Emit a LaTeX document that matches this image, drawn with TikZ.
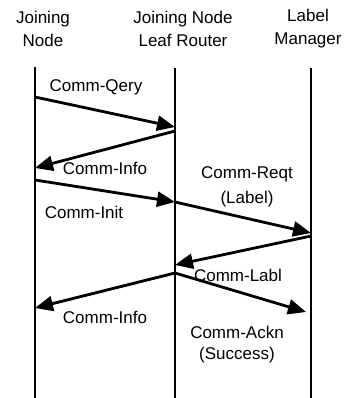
\documentclass[tikz,border=0pt]{standalone}
\usepackage{fontspec}
\setmainfont{Liberation Sans}
\usetikzlibrary{arrows.meta}
\tikzset{
  life/.style={line width=2.8pt},
  msg/.style={line width=2.8pt,-{Triangle[length=18pt,width=15pt]}},
  lbl/.style={font=\fontsize{17}{23}\selectfont, inner sep=0pt},
  head/.style={lbl, align=center},
}
\begin{document}
\begin{tikzpicture}[x=1pt,y=-1pt]
\useasboundingbox (0,0) rectangle (354,398);
% Headers
\node[head] (hjoin) at (43,29) {Joining\\Node};
\node[head] (hleaf) at (183,29) {Joining Node\\Leaf Router};
\node[head] (hmgr) at (308,29) {Label\\Manager};
% Lifelines
\coordinate (jtop) at (35,67);  \coordinate (jbot) at (35,398);
\coordinate (ltop) at (175,68); \coordinate (lbot) at (175,398);
\coordinate (mtop) at (311,68); \coordinate (mbot) at (311,398);
\draw[life] (jtop) -- (jbot);
\draw[life] (ltop) -- (lbot);
\draw[life] (mtop) -- (mbot);
% Message ends
\coordinate (qs) at (35,97);   \coordinate (qe) at (175,127);
\coordinate (is) at (175,131); \coordinate (ie) at (35,168);
\coordinate (ns) at (35,180);  \coordinate (ne) at (175,202);
\coordinate (rs) at (175,202); \coordinate (re) at (311,233);
\coordinate (bs) at (311,236); \coordinate (be) at (175,265);
\coordinate (fs) at (175,273); \coordinate (fe) at (35,308);
\coordinate (as) at (175,273); \coordinate (ae) at (306,312);
% Messages
\draw[msg] (qs) -- (qe);
\draw[msg] (is) -- (ie);
\draw[msg] (ns) -- (ne);
\draw[msg] (rs) -- (re);
\draw[msg] (bs) -- (be);
\draw[msg] (fs) -- (fe);
\draw[msg] (as) -- (ae);
% Labels
\node[lbl] (lqery) at (96,87) {Comm-Qery};
\node[lbl] (linfo) at (105,168) {Comm-Info};
\node[lbl] (linit) at (84,212) {Comm-Init};
\node[lbl] (lreqt) at (247,174) {Comm-Reqt};
\node[lbl] (lreqa) at (247,199) {(Label)};
\node[lbl] (llabl) at (238,275) {Comm-Labl};
\node[lbl] (linfb) at (105,317) {Comm-Info};
\node[lbl] (lackn) at (237,332) {Comm-Ackn};
\node[lbl] (lsucc) at (237,355) {(Success)};
\end{tikzpicture}
\end{document}
